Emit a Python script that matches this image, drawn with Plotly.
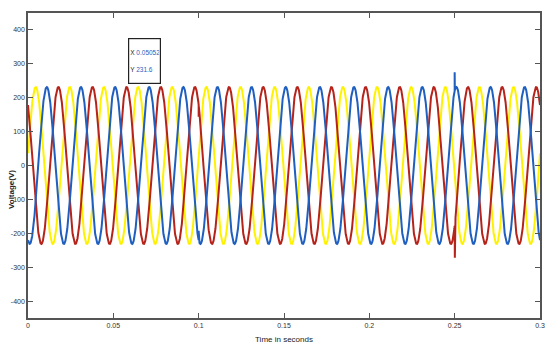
import numpy as np
import plotly.graph_objects as go

# Values
series_names = ["Phase A", "Phase B", "Phase C"]
series_colors = ["#FFF200", "#1F5FBF", "#B5231A"]
amplitudes = [231.6, 231.6, 231.6]          # V (datatip Y 231.6)
peak_times = [0.0045, 0.0110, 0.0178]       # s, time of first positive peak
frequency = [50.0]                          # Hz (15 cycles in 0.3 s)
t_end = [0.3]
# transient spikes: (series index, time, value, kind)
spikes = [(1, 0.2500, 275.0, "abs"), (2, 0.2501, -272.0, "abs"),
          (1, 0.1000, 30.0, "rel"), (2, 0.1000, -30.0, "rel")]

x_ticks = [0, 0.05, 0.1, 0.15, 0.2, 0.25, 0.3]
x_tick_labels = ["0", "0.05", "0.1", "0.15", "0.2", "0.25", "0.3"]
y_ticks = [-400, -300, -200, -100, 0, 100, 200, 300, 400]
y_tick_labels = ["-400", "-300", "-200", "-100", "0", "100", "200", "300", "400"]

t = np.linspace(0, t_end[0], 3001)

fig = go.Figure()
order = [0, 2, 1]
for i in order:
    v = amplitudes[i] * np.cos(2 * np.pi * frequency[0] * (t - peak_times[i]))
    tt = list(t)
    vv = list(v)
    for (si, ts, val, kind) in spikes:
        if si == i:
            k = int(np.searchsorted(t, ts))
            base = vv[k]
            tt.insert(k, ts)
            vv.insert(k, val if kind == "abs" else base + val)
    fig.add_trace(go.Scatter(x=tt, y=vv, mode="lines", name=series_names[i],
                             line=dict(color=series_colors[i], width=2),
                             showlegend=False, hoverinfo="skip"))

axis_common = dict(showline=True, linecolor="#555555", linewidth=1.5, mirror="ticks",
                   ticks="inside", ticklen=5, tickcolor="#555555", tickwidth=1,
                   showgrid=False, zeroline=False, automargin=False,
                   tickfont=dict(family="Liberation Sans Narrow, Arial Narrow, sans-serif", size=7, color="#333333"))

fig.update_xaxes(range=[0, 0.3], tickvals=x_ticks, ticktext=x_tick_labels,
                 title=dict(text="Time in seconds", standoff=8,
                            font=dict(family="Liberation Sans Narrow, sans-serif", size=8, color="#222222")),
                 **axis_common)
fig.update_yaxes(range=[-450, 450], tickvals=y_ticks, ticktext=y_tick_labels, **axis_common)

fig.add_annotation(xref="paper", yref="paper", x=-17 / 512, y=(318 - 190) / 305,
                   xanchor="center", yanchor="middle", showarrow=False, textangle=-90,
                   text="<b>Voltage(V)</b>",
                   font=dict(family="Liberation Sans Narrow, sans-serif", size=8, color="#222222"))

fig.add_annotation(xref="paper", yref="paper", x=(128 - 28) / 512, y=(318 - 38) / 305,
                   xanchor="left", yanchor="top", showarrow=False, align="left",
                   width=29, height=42, bgcolor="white", bordercolor="#222222", borderwidth=1.2,
                   borderpad=1,
                   text="X <span style='color:#1F5FBF'>0.05052</span><br><br>Y <span style='color:#1F5FBF'>231.6</span>",
                   font=dict(family="Liberation Sans Narrow, sans-serif", size=6.5, color="#222222"))

fig.update_layout(width=553, height=354, margin=dict(l=28, r=13, t=13, b=36),
                  paper_bgcolor="white", plot_bgcolor="white")

fig.write_html("out.html")
